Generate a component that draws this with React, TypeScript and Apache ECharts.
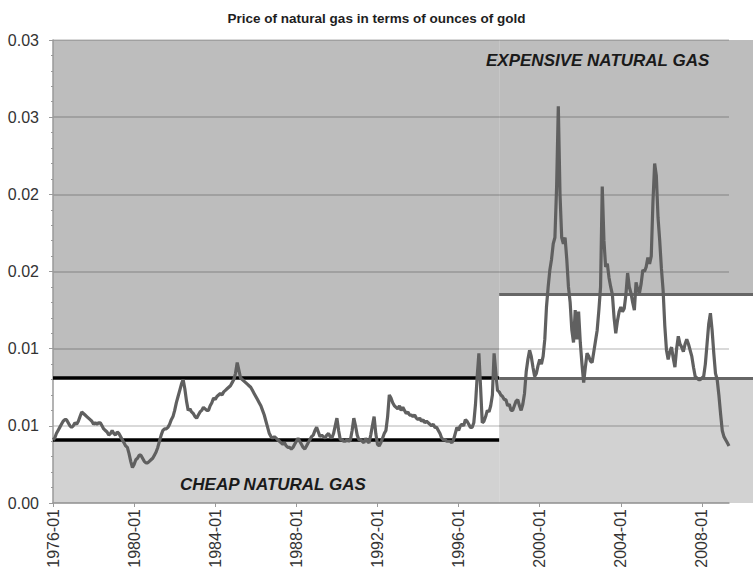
import React, { useEffect, useRef } from "react";
import * as echarts from "echarts";

const TITLE = "Price of natural gas in terms of ounces of gold";
const START_YEAR = 1976;

const gas1976_1979 = [
  0.0041, 0.0042, 0.0045, 0.0047, 0.0049, 0.0051, 0.0053, 0.0054, 0.0054, 0.0052, 0.005, 0.0049,
  0.005, 0.0052, 0.0051, 0.0053, 0.0056, 0.0059, 0.0058, 0.0057, 0.0056, 0.0055, 0.0054, 0.0053,
  0.0051, 0.0052, 0.0051, 0.0052, 0.0052, 0.005, 0.0048, 0.0047, 0.0046, 0.0044, 0.0045, 0.0047,
  0.0045, 0.0044, 0.0046, 0.0045, 0.0043, 0.0041, 0.0039, 0.0037, 0.0036, 0.0032, 0.0027, 0.0023,
];
const gas1980_1983 = [
  0.0025, 0.0028, 0.0029, 0.0031, 0.0031, 0.0029, 0.0027, 0.0026, 0.0026, 0.0027, 0.0028, 0.0029,
  0.0031, 0.0033, 0.0036, 0.004, 0.0044, 0.0047, 0.0048, 0.0048, 0.0049, 0.0051, 0.0054, 0.0056,
  0.006, 0.0065, 0.0069, 0.0073, 0.0077, 0.008, 0.0074, 0.0066, 0.006, 0.0061, 0.0059, 0.0058,
  0.0056, 0.0055, 0.0057, 0.0059, 0.006, 0.0062, 0.0061, 0.006, 0.006, 0.0063, 0.0065, 0.0068,
];
const gas1984_1987 = [
  0.0067, 0.0069, 0.007, 0.0071, 0.007, 0.0072, 0.0073, 0.0074, 0.0075, 0.0076, 0.0078, 0.008,
  0.0084, 0.0091, 0.0086, 0.0081, 0.008, 0.0079, 0.0078, 0.0077, 0.0076, 0.0075, 0.0073, 0.0071,
  0.0069, 0.0067, 0.0065, 0.0063, 0.006, 0.0057, 0.0053, 0.0049, 0.0045, 0.0043, 0.0042, 0.0043,
  0.0042, 0.0041, 0.004, 0.0039, 0.0038, 0.0039, 0.0037, 0.0036, 0.0036, 0.0035, 0.0036, 0.0038,
];
const gas1988_1991 = [
  0.004, 0.0042, 0.004, 0.0038, 0.0036, 0.0035, 0.0037, 0.0039, 0.0041, 0.0043, 0.0044, 0.0047,
  0.0049, 0.0046, 0.0043, 0.0044, 0.0043, 0.0042, 0.0044, 0.0045, 0.0043, 0.0042, 0.0045, 0.005,
  0.0055, 0.0047, 0.0041, 0.0041, 0.004, 0.004, 0.0041, 0.004, 0.0041, 0.0047, 0.0055, 0.005,
  0.0044, 0.0041, 0.0041, 0.004, 0.0039, 0.0042, 0.004, 0.0039, 0.0044, 0.005, 0.0056, 0.0045,
];
const gas1992_1995 = [
  0.0038, 0.0037, 0.0039, 0.0042, 0.0045, 0.0047, 0.0056, 0.007, 0.0068, 0.0065, 0.0063, 0.0062,
  0.0061, 0.0063, 0.006, 0.0062, 0.006, 0.0058, 0.0059, 0.0057, 0.0057, 0.0056, 0.0057, 0.0055,
  0.0054, 0.0055, 0.0053, 0.0054, 0.0052, 0.0053, 0.0052, 0.0051, 0.005, 0.0051, 0.0049, 0.0049,
  0.0047, 0.0045, 0.0042, 0.0041, 0.0041, 0.004, 0.004, 0.004, 0.0039, 0.0041, 0.0045, 0.0049,
];
const gas1996_1999 = [
  0.0047, 0.005, 0.0051, 0.005, 0.0054, 0.0053, 0.0051, 0.0049, 0.0049, 0.0052, 0.0064, 0.0082,
  0.0097, 0.0075, 0.0052, 0.0053, 0.0056, 0.006, 0.0059, 0.0063, 0.007, 0.0097, 0.0085, 0.0073,
  0.0072, 0.007, 0.0069, 0.0067, 0.0067, 0.0063, 0.0064, 0.006, 0.006, 0.0063, 0.0066, 0.0067,
  0.0063, 0.006, 0.0064, 0.0071, 0.0085, 0.0093, 0.0099, 0.0095, 0.0088, 0.0082, 0.0084, 0.0089,
];
const gas2000_2003 = [
  0.0093, 0.009, 0.0095, 0.0106, 0.0127, 0.014, 0.0151, 0.0158, 0.0168, 0.0172, 0.0205, 0.0257,
  0.02, 0.0172, 0.0168, 0.0172, 0.0158, 0.014, 0.013, 0.0112, 0.0104, 0.0125, 0.0106, 0.0124,
  0.0104, 0.009, 0.0078, 0.0088, 0.0097, 0.0095, 0.0092, 0.0091, 0.0098, 0.0105, 0.0112, 0.0125,
  0.014, 0.0205, 0.017, 0.0153, 0.0155, 0.0146, 0.014, 0.0135, 0.012, 0.011, 0.0118, 0.0124,
];
const gas2004_2007 = [
  0.0127, 0.0124, 0.0126, 0.0135, 0.0149, 0.014, 0.0136, 0.013, 0.0125, 0.0143, 0.0138, 0.0136,
  0.0142, 0.0151, 0.015, 0.0153, 0.0159, 0.0155, 0.016, 0.0195, 0.022, 0.0212, 0.0185, 0.017,
  0.0152, 0.0138, 0.0115, 0.0099, 0.0093, 0.0098, 0.0101, 0.0094, 0.0088, 0.01, 0.0108, 0.0103,
  0.0101, 0.0098, 0.0103, 0.0106, 0.0103, 0.0099, 0.0095, 0.0088, 0.0082, 0.0081, 0.008, 0.008,
];
const gas2008_2009 = [
  0.0081, 0.0082, 0.009, 0.0103, 0.0116, 0.0123, 0.0112, 0.0097, 0.0084, 0.008, 0.007, 0.0058,
  0.0047, 0.0043, 0.0041, 0.0039, 0.0037,
];

const gasInGold = [
  ...gas1976_1979, ...gas1980_1983, ...gas1984_1987, ...gas1988_1991,
  ...gas1992_1995, ...gas1996_1999, ...gas2000_2003, ...gas2004_2007, ...gas2008_2009,
];

const months = gasInGold.map((_, i) => {
  const y = START_YEAR + Math.floor(i / 12);
  const m = (i % 12) + 1;
  return `${y}-${m < 10 ? "0" + m : m}`;
});

const yTickLabels = ["0.00", "0.01", "0.01", "0.02", "0.02", "0.03", "0.03"];
const Y_MAX = 0.03;
const Y_STEP = 0.005;
const LABEL_EVERY = 48;

// bands
const regimeSplit = "1998-01";
const cheapBand = [0.0041, 0.0081];
const expensiveBand = [0.0081, 0.0135];

const FONT = "Liberation Sans";
const GRID_LEFT = 53;
const GRID_TOP = 40;
const GRID_BOTTOM = 72;
const MAIN_RIGHT = 24;
const W = 753;
const H = 575;

export default function App() {
  const ref = useRef<HTMLDivElement>(null);
  useEffect(() => {
    if (!ref.current) return;
    const chart = echarts.init(ref.current, null, { renderer: "svg" });
    const lastIdx = gasInGold.length - 1;
    const splitIdx = months.indexOf(regimeSplit);
    const bandMax = (lastIdx * (W - GRID_LEFT)) / (W - MAIN_RIGHT - GRID_LEFT);
    const dark = "#bdbdbd";
    const light = "#d2d2d2";
    const showEvery = (i: number) => i % LABEL_EVERY === 0;
    const option: any = {
      animation: false,
      title: {
        text: TITLE,
        left: "center",
        top: 6,
        textStyle: { fontFamily: FONT, fontSize: 13.5, fontWeight: "bold", color: "#1e1e1e" },
      },
      grid: [
        { left: GRID_LEFT, right: MAIN_RIGHT, top: GRID_TOP, bottom: GRID_BOTTOM },
        { left: GRID_LEFT, right: 0, top: GRID_TOP, bottom: GRID_BOTTOM },
      ],
      xAxis: [
        {
          type: "category",
          gridIndex: 0,
          data: months,
          boundaryGap: false,
          z: 3,
          axisLine: { lineStyle: { color: "#9a9a9a", width: 1.5 } },
          axisTick: { interval: showEvery, length: 4, lineStyle: { color: "#9a9a9a" } },
          axisLabel: {
            interval: showEvery,
            rotate: 90,
            fontSize: 16,
            fontFamily: FONT,
            color: "#333",
            margin: 6,
          },
          splitLine: { show: false },
        },
        { type: "value", gridIndex: 1, min: 0, max: bandMax, show: false },
      ],
      yAxis: [
        {
          type: "value",
          gridIndex: 0,
          min: 0,
          max: Y_MAX,
          interval: Y_STEP,
          z: 3,
          axisLine: { show: true, lineStyle: { color: "#9a9a9a", width: 1.5 } },
          axisTick: { show: true, length: 4, lineStyle: { color: "#9a9a9a" } },
          minorTick: { show: true, splitNumber: 5, length: 2, lineStyle: { color: "#9a9a9a" } },
          splitLine: { show: true, lineStyle: { color: "rgba(0,0,0,0.2)", width: 1.5 } },
          axisLabel: {
            formatter: (v: number) => yTickLabels[Math.round(v / Y_STEP)] ?? "",
            fontSize: 16,
            fontFamily: FONT,
            color: "#333",
            margin: 14,
          },
        },
        { type: "value", gridIndex: 1, min: 0, max: Y_MAX, show: false },
      ],
      series: [
        {
          type: "line",
          xAxisIndex: 1,
          yAxisIndex: 1,
          data: [[0, 0]],
          symbol: "none",
          silent: true,
          lineStyle: { opacity: 0 },
          z: 1,
          markArea: {
            silent: true,
            z: 1,
            label: { show: false },
            data: [
              [{ coord: [0, cheapBand[1]], itemStyle: { color: dark } }, { coord: [splitIdx, Y_MAX] }],
              [{ coord: [splitIdx, expensiveBand[1]], itemStyle: { color: dark } }, { coord: [bandMax, Y_MAX] }],
              [{ coord: [0, cheapBand[0]], itemStyle: { color: "#ffffff" } }, { coord: [splitIdx, cheapBand[1]] }],
              [{ coord: [splitIdx, expensiveBand[0]], itemStyle: { color: "#ffffff" } }, { coord: [bandMax, expensiveBand[1]] }],
              [{ coord: [0, 0], itemStyle: { color: light } }, { coord: [splitIdx, cheapBand[0]] }],
              [{ coord: [splitIdx, 0], itemStyle: { color: light } }, { coord: [bandMax, expensiveBand[0]] }],
            ],
          },
          markLine: {
            silent: true,
            z: 4,
            symbol: ["none", "none"],
            label: { show: false },
            data: [
              [{ coord: [0, cheapBand[1]], lineStyle: { color: "#000", width: 3.5, type: "solid" } }, { coord: [splitIdx, cheapBand[1]] }],
              [{ coord: [0, cheapBand[0]], lineStyle: { color: "#000", width: 3.5, type: "solid" } }, { coord: [splitIdx, cheapBand[0]] }],
              [{ coord: [splitIdx, expensiveBand[1]], lineStyle: { color: "#666666", width: 3, type: "solid" } }, { coord: [bandMax, expensiveBand[1]] }],
              [{ coord: [splitIdx, expensiveBand[0]], lineStyle: { color: "#666666", width: 3, type: "solid" } }, { coord: [bandMax, expensiveBand[0]] }],
            ],
          },
        },
        {
          type: "line",
          xAxisIndex: 0,
          yAxisIndex: 0,
          data: gasInGold,
          symbol: "none",
          showSymbol: false,
          z: 6,
          lineStyle: { color: "#606060", width: 3.2 },
        },
      ],
      graphic: [
        {
          type: "text",
          left: 486,
          top: 52,
          z: 10,
          style: { text: "EXPENSIVE NATURAL GAS", font: `italic bold 17px "${FONT}"`, fill: "#1a1a1a" },
        },
        {
          type: "text",
          left: 180,
          top: 476,
          z: 10,
          style: { text: "CHEAP NATURAL GAS", font: `italic bold 17px "${FONT}"`, fill: "#1a1a1a" },
        },
      ],
    };
    chart.setOption(option);
    return () => chart.dispose();
  }, []);
  return (
    <div
      ref={ref}
      style={{ position: "absolute", left: 0, top: 0, width: W, height: H, background: "#fff" }}
    />
  );
}
